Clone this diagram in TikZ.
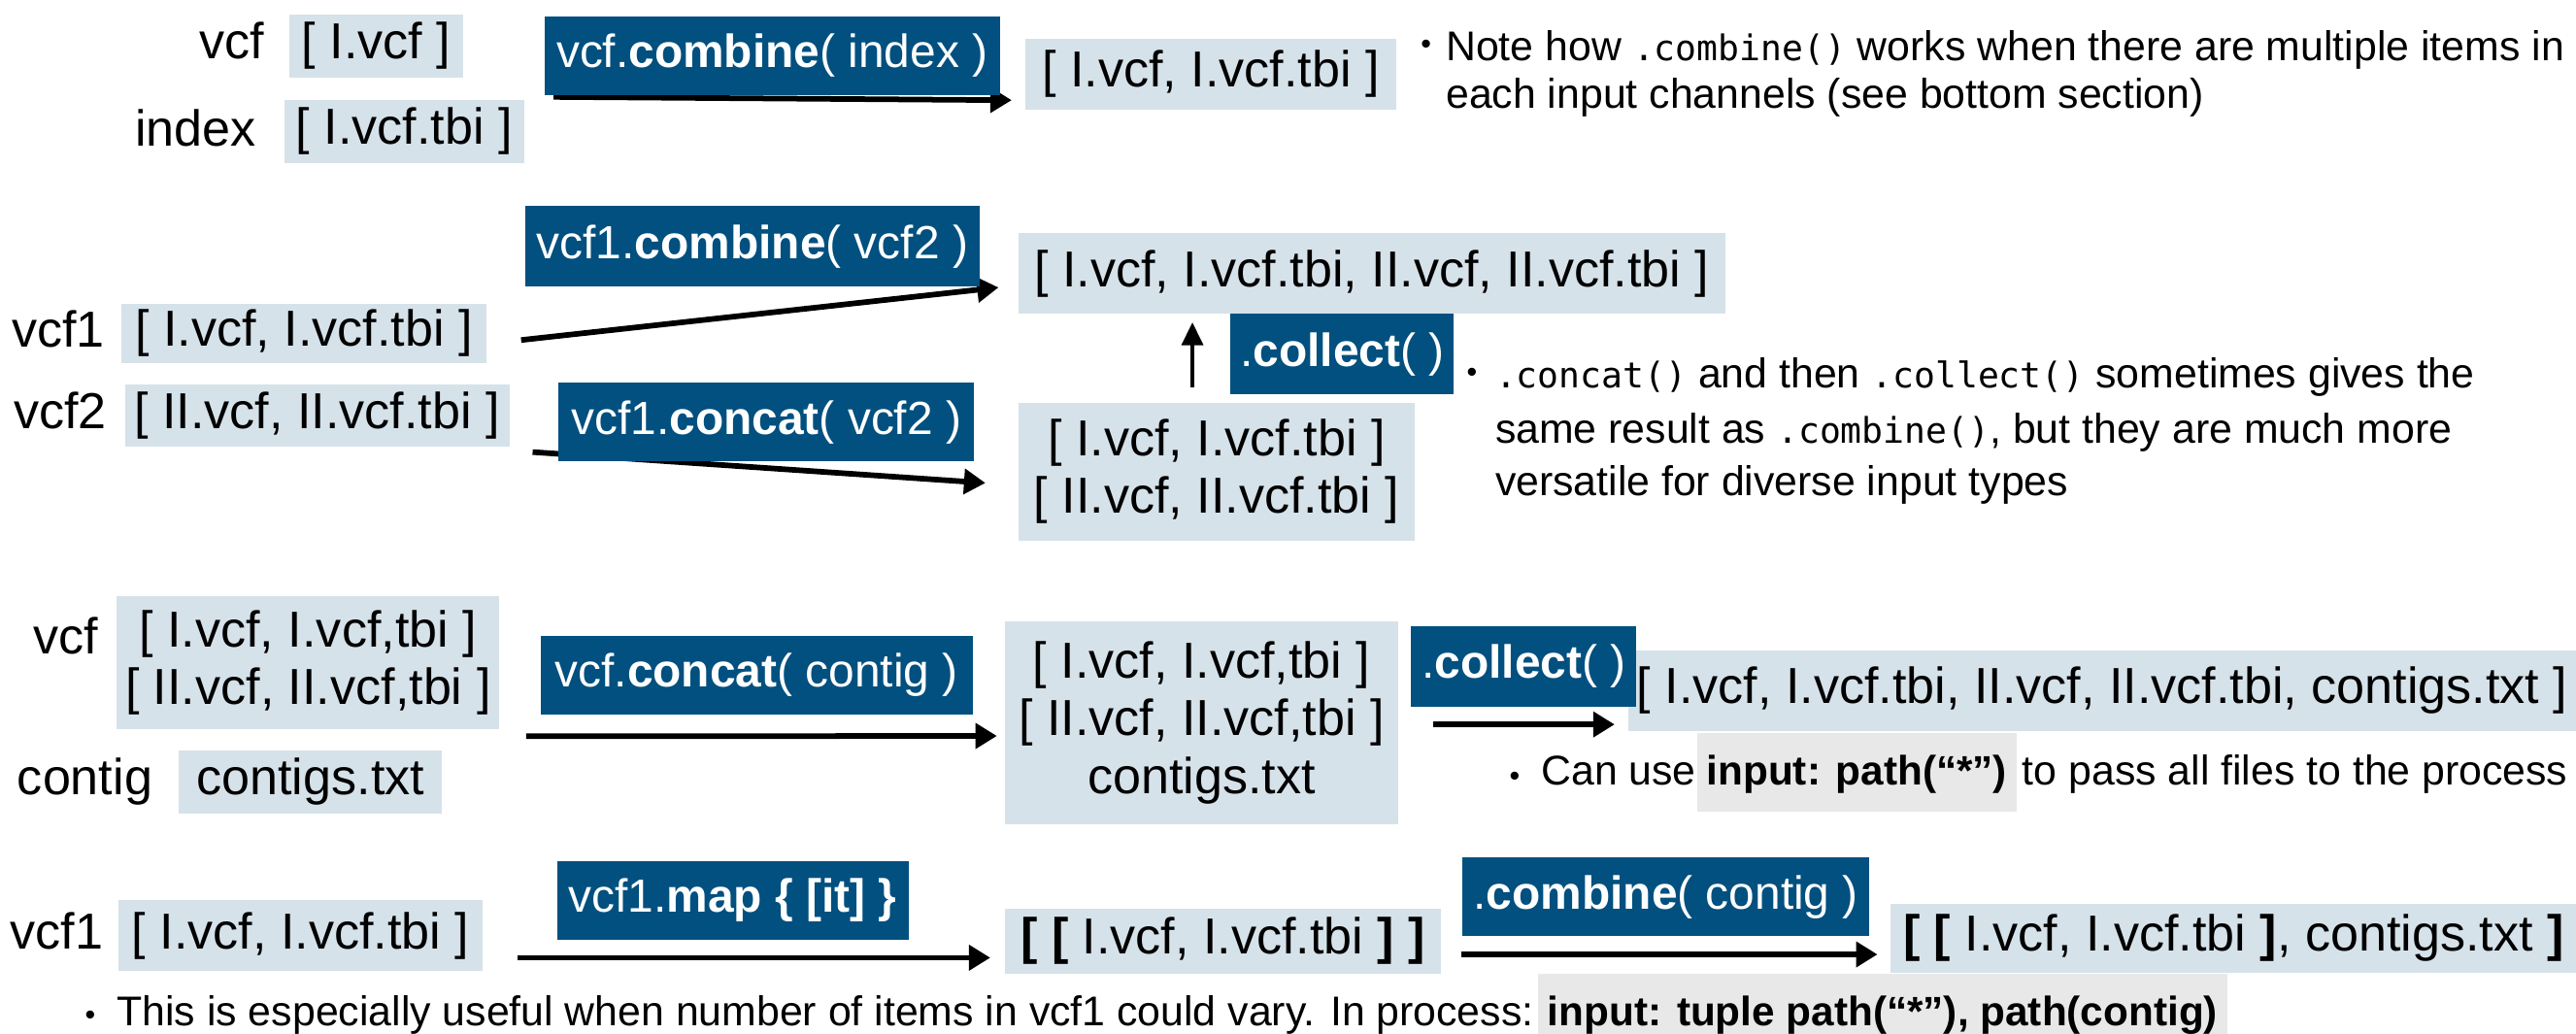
\documentclass[tikz,border=0pt]{standalone}
\usepackage{fontspec}
\setmainfont{Liberation Sans}
\newfontfamily\codefont{DejaVu Sans Mono}
\usetikzlibrary{arrows.meta,calc}
\definecolor{dblue}{HTML}{01507F}
\definecolor{lblue}{HTML}{D6E2EA}
\definecolor{hlgray}{HTML}{E8E8E8}
\newcommand{\code}[1]{{\codefont\fontsize{21.5}{25}\selectfont #1}}
\begin{document}
\begin{tikzpicture}[x=1pt,y=-1pt,
  lb/.style={fill=lblue, inner sep=0pt, align=center, font=\fontsize{30.8}{35}\selectfont},
  db/.style={fill=dblue, text=white, inner sep=0pt, font=\fontsize{28.3}{33}\selectfont},
  lab/.style={anchor=base east, inner sep=0pt, font=\fontsize{30.8}{35}\selectfont},
  sz/.style 2 args={minimum width=#1pt, minimum height=#2pt},
  note/.style={anchor=base west, inner sep=0pt, font=\fontsize{25.3}{30}\selectfont},
  bul/.style={anchor=base, inner sep=0pt, font=\fontsize{18}{18}\selectfont},
  hl/.style={anchor=base west, fill=hlgray, inner xsep=6pt, inner ysep=0pt, text height=32pt, text depth=16pt, font=\fontsize{25}{30}\selectfont\bfseries},
  conn/.style={line width=3.4pt, -{Triangle[length=13pt,width=15pt]}},
  upconn/.style={line width=2.2pt, -{Triangle[length=14pt,width=13pt]}}
]
\useasboundingbox (0,0) rectangle (1568,629);

% ---------------- Row 1 ----------------
\node[lb, sz={106}{38}] (b1a) at (229,28) {[ I.vcf ]};
\node[lb, sz={146}{38}] (b1b) at (246,80) {[ I.vcf.tbi ]};
\node[lab] (l1a) at (161,36) {vcf};
\node[lab] (l1b) at (156,89) {index};
\node[lb, sz={226}{43}] (r1) at (737,45) {[ I.vcf, I.vcf.tbi ]};
\coordinate (s1) at (337,59);
\draw[conn] (s1) -- ($(r1.west)+(-8,16)$);
\node[db, sz={277}{48}] (d1) at (470,34) {vcf.\textbf{combine}( index )};
\node[bul] (n1b) at (868,32.6) {•};
\node[note] (n1a) at (880,37) {Note how \code{.combine()} works when there are multiple items in};
\node[note] (n1c) at (880,66) {each input channels (see bottom section)};

% ---------------- Row 2 ----------------
\node[lb, sz={222}{36}] (b2a) at (185,203) {[ I.vcf, I.vcf.tbi ]};
\node[lb, sz={234}{38}] (b2b) at (193,253) {[ II.vcf, II.vcf.tbi ]};
\node[lab] (l2a) at (64,211) {vcf1};
\node[lab] (l2b) at (65,261) {vcf2};
\node[lb, sz={430}{49}] (r2) at (835,166.5) {[ I.vcf, I.vcf.tbi, II.vcf, II.vcf.tbi ]};
\node[lb, sz={241}{84}] (r2b) at (740.5,287) {[ I.vcf, I.vcf.tbi ]\\{[} II.vcf, II.vcf.tbi ]};
\draw[conn] ($(b2a.east)+(21,4)$) -- ($(r2.west)+(-12,8.5)$);
\draw[conn] ($(b2b.south east)+(14,3)$) -- ($(r2b.west)+(-20,7)$);
\draw[upconn] ($(r2b.north west)+(106,-9)$) -- ($(r2.south west)+(106,5)$);
\node[db, sz={277}{49}] (d2) at (458,150) {vcf1.\textbf{combine}( vcf2 )};
\node[db, sz={253}{48}] (d2b) at (466.5,257) {vcf1.\textbf{concat}( vcf2 )};
\node[db, sz={136}{49}] (c2) at (817,215.5) {.\textbf{collect}( )};
\node[bul] (n2b) at (896,232.6) {•};
\node[note] (n2a) at (910,236) {\code{.concat()} and then \code{.collect()} sometimes gives the};
\node[note] (n2c) at (910,270) {same result as \code{.combine()}, but they are much more};
\node[note] (n2d) at (910,302) {versatile for diverse input types};

% ---------------- Row 3 ----------------
\node[lb, sz={233}{81}] (b3a) at (187.5,403.5) {[ I.vcf, I.vcf,tbi ]\\{[} II.vcf, II.vcf,tbi ]};
\node[lb, sz={160}{38}] (b3b) at (189,476) {contigs.txt};
\node[lab] (l3a) at (60,398) {vcf};
\node[lab] (l3b) at (93,484) {contig};
\node[lb, sz={239}{124}] (r3) at (731.5,440) {[ I.vcf, I.vcf,tbi ]\\{[} II.vcf, II.vcf,tbi ]\\contigs.txt};
\node[lb, sz={577}{49}] (r3c) at (1279.5,420.5) {[ I.vcf, I.vcf.tbi, II.vcf, II.vcf.tbi, contigs.txt ]};
\draw[conn] ($(b3a.south east)+(16,4)$) -- ($(r3.west)+(-5,8)$);
\draw[conn] ($(r3.east)+(21,1)$) -- ($(r3c.west)+(-8,20.5)$);
\node[db, sz={263}{48}] (d3) at (460.5,411) {vcf.\textbf{concat}( contig )};
\node[db, sz={137}{49}] (c3) at (927.5,405.5) {.\textbf{collect}( )};
\node[bul] (n3d) at (922,478.3) {•};
\node[note] (n3a) at (938,478) {Can use};
\node[hl] (n3b) at (n3a.base east) {input: path(“*”)};
\node[note] (n3c) at ($(n3b.base east)+(3,0)$) {to pass all files to the process};

% ---------------- Row 4 ----------------
\node[lb, sz={222}{43}] (b4) at (183,569.5) {[ I.vcf, I.vcf.tbi ]};
\node[lab] (l4) at (63,578) {vcf1};
\node[lb, sz={265}{40}] (r4a) at (744.5,573) {\textbf{[ [} I.vcf, I.vcf.tbi \textbf{] ]}};
\node[lb, sz={417}{42}] (r4b) at (1359.5,571) {\textbf{[ [} I.vcf, I.vcf.tbi \textbf{]}, contigs.txt \textbf{]}};
\draw[conn] ($(b4.east)+(21,13.5)$) -- ($(r4a.west)+(-9,10)$);
\draw[conn] ($(r4a.east)+(12,8)$) -- ($(r4b.west)+(-8,10)$);
\node[db, sz={214}{48}] (d4) at (446,548) {vcf1.\textbf{map \{ [it] \}}};
\node[db, sz={248}{48}] (d4b) at (1014,546) {.\textbf{combine}( contig )};
\node[bul] (n4d) at (55,623.6) {•};
\node[note] (n4a) at (71,624.5) {This is especially useful when number of items in vcf1 could vary. In process:};
\node[hl] (n4b) at ($(n4a.base east)+(2,0)$) {input: tuple path(“*”), path(contig)};
\end{tikzpicture}
\end{document}
